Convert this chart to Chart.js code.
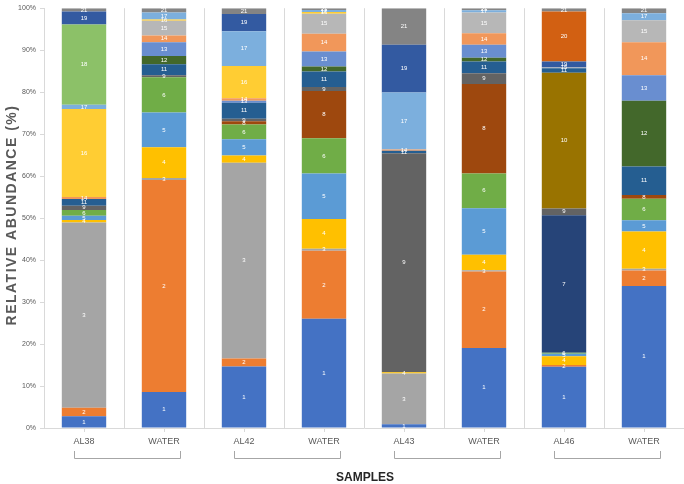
<!DOCTYPE html>
<html>
<head>
<meta charset="utf-8">
<script src="https://cdn.jsdelivr.net/npm/chart.js@4.4.1/dist/chart.umd.min.js"></script>
<style>
  html, body { margin: 0; padding: 0; background: #ffffff; }
  #wrap { width: 684px; height: 484px; position: relative; }
</style>
</head>
<body>
<div id="wrap"><canvas id="c" width="684" height="484"></canvas></div>
<script>
// Samples (x categories)
const samples = ["AL38", "WATER", "AL42", "WATER", "AL43", "WATER", "AL46", "WATER"];
// Pair groups (bracket under each pair)
const groups = [[0, 1], [2, 3], [4, 5], [6, 7]];
// Y tick labels
const yTicks = ["0%", "10%", "20%", "30%", "40%", "50%", "60%", "70%", "80%", "90%", "100%"];

// Relative abundance (%) per taxon, one value per sample
const taxon1  = [2.8, 8.6, 14.7, 26.0, 0.9, 19.1, 14.6, 33.9];
const taxon2  = [2.0, 50.6, 1.9, 16.2, 0, 18.2, 0.4, 3.7];
const taxon3  = [44.1, 0.5, 46.8, 0.5, 12.1, 0.3, 0, 0.4];
const taxon4  = [0.6, 7.3, 1.7, 7.1, 0.3, 3.7, 2.1, 8.9];
const taxon5  = [1.0, 8.3, 3.9, 10.8, 0, 11.1, 0.6, 2.7];
const taxon6  = [1.4, 8.4, 3.5, 8.4, 0, 8.3, 0.2, 5.1];
const taxon7  = [0, 0, 0, 0, 0, 0, 32.8, 0];
const taxon8  = [0, 0, 0.8, 11.3, 0, 21.3, 0, 0.9];
const taxon9  = [1.0, 0.5, 0.6, 0.9, 52.2, 2.6, 1.6, 0];
const taxon10 = [0, 0, 0, 0, 0, 0, 32.3, 0];
const taxon11 = [1.6, 2.6, 3.8, 3.7, 0.6, 2.8, 1.1, 6.8];
const taxon12 = [0, 2.0, 0, 1.2, 0, 0.9, 0, 15.7];
const taxon13 = [0, 3.3, 0.5, 3.6, 0, 3.1, 0, 6.1];
const taxon14 = [0.5, 1.6, 0.6, 4.2, 0.3, 2.7, 0, 7.9];
const taxon15 = [0, 3.5, 0, 4.8, 0, 5.0, 0.2, 5.2];
const taxon16 = [20.9, 0.3, 7.7, 0.4, 0, 0, 0, 0];
const taxon17 = [1.0, 1.7, 8.3, 0.5, 13.6, 0.5, 0, 1.7];
const taxon18 = [19.1, 0, 0, 0, 0, 0, 0, 0];
const taxon19 = [3.1, 0, 4.1, 0, 11.4, 0, 1.4, 0];
const taxon20 = [0, 0, 0, 0, 0, 0, 11.9, 0];
const taxon21 = [0.8, 1.0, 1.4, 0.4, 8.7, 0.5, 0.8, 1.2];

const taxa = [taxon1, taxon2, taxon3, taxon4, taxon5, taxon6, taxon7, taxon8, taxon9, taxon10,
  taxon11, taxon12, taxon13, taxon14, taxon15, taxon16, taxon17, taxon18, taxon19, taxon20, taxon21];

const colors = ["#4472C4", "#ED7D31", "#A5A5A5", "#FFC000", "#5B9BD5", "#70AD47", "#264478",
  "#9E480E", "#636363", "#997300", "#255E91", "#43682B", "#698ED0", "#F1975A", "#B7B7B7",
  "#FFCD33", "#7CAFDD", "#8CC168", "#335AA1", "#D26012", "#848484"];

// normalise every sample to 100 %
const totals = samples.map((_, i) => taxa.reduce((s, t) => s + t[i], 0));
const datasets = taxa.map((t, k) => ({
  label: String(k + 1),
  data: t.map((v, i) => v / totals[i] * 100),
  backgroundColor: colors[k],
  borderWidth: 0,
  stack: "s"
}));

const TXT = "#595959";
const FONT = "'Liberation Sans', Arial, sans-serif";

const decor = {
  id: "decor",
  afterDatasetsDraw(chart) {
    const ctx = chart.ctx;
    ctx.save();
    ctx.font = "6px " + FONT;
    ctx.fillStyle = "#ffffff";
    ctx.textAlign = "center";
    ctx.textBaseline = "middle";
    chart.data.datasets.forEach((ds, di) => {
      const meta = chart.getDatasetMeta(di);
      meta.data.forEach((el, i) => {
        if (ds.data[i] > 0) {
          ctx.fillText(ds.label, el.x, (el.y + el.base) / 2);
        }
      });
    });
    ctx.restore();
  },
  afterDraw(chart) {
    const ctx = chart.ctx;
    const xs = chart.scales.x;
    const area = chart.chartArea;
    ctx.save();
    // center tick marks
    ctx.strokeStyle = "#d9d9d9";
    ctx.lineWidth = 1;
    samples.forEach((_, i) => {
      const x = Math.round(xs.getPixelForValue(i)) + 0.5;
      ctx.beginPath();
      ctx.moveTo(x, area.bottom);
      ctx.lineTo(x, area.bottom + 4);
      ctx.stroke();
    });
    // brackets
    ctx.strokeStyle = "#a6a6a6";
    groups.forEach(g => {
      const x1 = Math.round(xs.getPixelForValue(g[0]) - 10) + 0.5;
      const x2 = Math.round(xs.getPixelForValue(g[1]) + 16) + 0.5;
      ctx.beginPath();
      ctx.moveTo(x1, 451);
      ctx.lineTo(x1, 458.5);
      ctx.lineTo(x2, 458.5);
      ctx.lineTo(x2, 451);
      ctx.stroke();
    });
    // x title
    ctx.fillStyle = "#262626";
    ctx.font = "bold 12px " + FONT;
    ctx.textAlign = "center";
    ctx.textBaseline = "middle";
    ctx.fillText("SAMPLES", 365, 478);
    // y title
    ctx.translate(12, 215);
    ctx.rotate(-Math.PI / 2);
    ctx.fillStyle = TXT;
    ctx.font = "bold 14px " + FONT;
    if ("letterSpacing" in ctx) ctx.letterSpacing = "1.5px";
    ctx.fillText("RELATIVE ABUNDANCE (%)", 0, 0);
    ctx.restore();
  }
};

new Chart(document.getElementById("c"), {
  type: "bar",
  data: { labels: samples, datasets: datasets },
  options: {
    responsive: false,
    animation: false,
    layout: { padding: { top: 4, right: 0, left: 0, bottom: 0 } },
    plugins: { legend: { display: false }, tooltip: { enabled: false } },
    datasets: { bar: { categoryPercentage: 1, barPercentage: 0.555 } },
    scales: {
      x: {
        stacked: true,
        grid: { color: "#d9d9d9", offset: true, drawTicks: false, lineWidth: 1 },
        border: { color: "#d9d9d9" },
        ticks: { color: TXT, font: { family: FONT, size: 9 }, padding: 8, maxRotation: 0 },
        afterFit(s) { s.height = 56; }
      },
      y: {
        stacked: true,
        min: 0, max: 100,
        grid: { drawOnChartArea: false, drawTicks: true, tickLength: 4, color: "#d9d9d9" },
        border: { color: "#d9d9d9" },
        ticks: {
          stepSize: 10, color: TXT, font: { family: FONT, size: 7 }, padding: 4,
          callback: (v) => yTicks[Math.round(v / 10)]
        },
        afterFit(s) { s.width = 44; }
      }
    }
  },
  plugins: [decor]
});
</script>
</body>
</html>
